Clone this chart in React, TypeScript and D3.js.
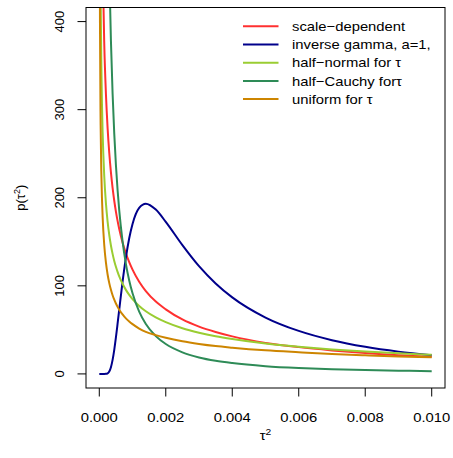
import React from "react";
import * as d3 from "d3";

// tau^2 grid (x values)
const tau2 = [0, 0.00001, 0.00002, 0.00004, 0.00006, 0.00008, 0.0001, 0.00015, 0.0002, 0.00025, 0.0003, 0.00035, 0.0004, 0.00045, 0.0005, 0.00055, 0.0006, 0.0007, 0.0008, 0.0009, 0.001, 0.0012, 0.0014, 0.0017, 0.002, 0.0025, 0.003, 0.0035, 0.004, 0.005, 0.006, 0.007, 0.008, 0.009, 0.01];

const scaleDependent = [null, 1591, 1110, 769.8, 619.3, 529.8, 468.6, 373.8, 317.5, 279.0, 250.8, 228.8, 211.2, 196.6, 184.3, 173.7, 164.5, 149.2, 137.0, 126.9, 118.4, 104.6, 94.0, 82.1, 73.3, 61.8, 53.7, 47.6, 42.6, 35.2, 30.4, 26.7, 23.6, 21.2, 19.6];
const inverseGamma = [0, 0, 0, 0, 0, 0, 0, 0, 0.06, 0.61, 2.75, 7.67, 15.96, 27.4, 41.4, 57.0, 73.1, 104.7, 132.1, 154.0, 170.3, 188.6, 193.3, 186.6, 172.6, 146.2, 122.3, 102.7, 86.9, 64.0, 48.8, 38.3, 30.8, 25.3, 21.2];
const halfNormal = [null, 870, 615.2, 434.6, 354.7, 307.0, 274.4, 223.8, 193.6, 173.0, 157.7, 145.8, 136.3, 128.3, 121.6, 115.8, 110.7, 102.3, 95.4, 89.8, 85.0, 77.2, 71.1, 64.1, 58.7, 51.8, 46.8, 42.8, 39.6, 34.5, 30.8, 27.8, 25.4, 23.4, 21.7];
const halfCauchy = [null, 9151, 5931, 3595, 2568, 1977, 1591.5, 1039.6, 750.2, 575.2, 459.4, 378.1, 318.3, 272.8, 237.2, 208.8, 185.6, 150.4, 125.0, 106.1, 91.5, 70.7, 56.7, 42.9, 33.9, 24.5, 18.7, 14.9, 12.3, 8.83, 6.74, 5.36, 4.39, 3.69, 3.15];
const uniformTau = [null, 564.7, 399.3, 282.3, 230.5, 199.7, 178.6, 145.8, 126.3, 112.9, 103.1, 95.5, 89.3, 84.2, 79.9, 76.1, 72.9, 67.5, 63.1, 59.5, 56.5, 51.5, 47.7, 44.0, 41.0, 37.0, 34.0, 31.6, 29.8, 26.8, 24.6, 22.6, 21.1, 19.8, 18.8];

const seriesNames = ["scale\u2212dependent", "inverse gamma, a=1,", "half\u2212normal for \u03c4", "half\u2212Cauchy for\u03c4", "uniform for \u03c4"];
const seriesColors = ["#FF3030", "#00008B", "#9ACD32", "#2E8B57", "#CD8500"];
const seriesValues = [scaleDependent, inverseGamma, halfNormal, halfCauchy, uniformTau];

const xTicks = [0, 0.002, 0.004, 0.006, 0.008, 0.01];
const yTicks = [0, 100, 200, 300, 400];

const W = 453;
const H = 458;
const box = { left: 86, right: 445, top: 7.5, bottom: 388 };
const FONT = "'Liberation Sans', Arial, Helvetica, sans-serif";
const FS = 13;
const SX = 1.14;

export default function App() {
  const x = d3.scaleLinear().domain([-0.0004, 0.0104]).range([box.left, box.right]);
  const y = d3.scaleLinear().domain([-16, 416]).range([box.bottom, box.top]);

  const line = d3
    .line<[number, number | null]>()
    .defined((d) => d[1] != null)
    .x((d) => x(d[0]))
    .y((d) => y(d[1] as number))
    .curve(d3.curveMonotoneX);

  const legendX1 = 243;
  const legendX2 = 278.5;
  const legendTextX = 292;
  const legendY0 = 26.3;
  const legendDy = 18.2;

  return (
    <svg
      width={W}
      height={H}
      style={{ position: "absolute", left: 0, top: 0, background: "#fff" }}
      fontFamily={FONT}
    >
      <defs>
        <clipPath id="plotclip">
          <rect x={box.left} y={box.top} width={box.right - box.left} height={box.bottom - box.top} />
        </clipPath>
      </defs>
      <rect x={0} y={0} width={W} height={H} fill="#fff" />

      <g clipPath="url(#plotclip)">
        {seriesValues.map((vals, i) => (
          <path
            key={i}
            d={line(tau2.map((t, j) => [t, vals[j]] as [number, number | null])) || ""}
            fill="none"
            stroke={seriesColors[i]}
            strokeWidth={2}
          />
        ))}
      </g>

      <rect
        x={box.left}
        y={box.top}
        width={box.right - box.left}
        height={box.bottom - box.top}
        fill="none"
        stroke="#000"
        strokeWidth={1}
      />

      {/* x axis */}
      {xTicks.map((t) => (
        <g key={"x" + t}>
          <line x1={x(t)} x2={x(t)} y1={box.bottom} y2={box.bottom + 8.5} stroke="#000" strokeWidth={1} />
          <text
            transform={`translate(${x(t)},${421.5}) scale(${SX},1)`}
            textAnchor="middle"
            fontSize={FS}
          >
            {d3.format(".3f")(t)}
          </text>
        </g>
      ))}
      <text transform={`translate(${(box.left + box.right) / 2},440) scale(${SX},1)`} textAnchor="middle" fontSize={FS}>
        {"\u03c4"}
        <tspan fontSize={9} dy={-5.5}>2</tspan>
      </text>

      {/* y axis */}
      {yTicks.map((t) => (
        <g key={"y" + t}>
          <line x1={box.left - 8.5} x2={box.left} y1={y(t)} y2={y(t)} stroke="#000" strokeWidth={1} />
          <text transform={`translate(63.5,${y(t)}) rotate(-90)`} textAnchor="middle" fontSize={FS}>
            {String(t)}
          </text>
        </g>
      ))}
      <text transform={`translate(25,${(box.top + box.bottom) / 2}) rotate(-90)`} textAnchor="middle" fontSize={FS}>
        {"p(\u03c4"}
        <tspan fontSize={9} dy={-5.5}>2</tspan>
        <tspan dy={5.5}>)</tspan>
      </text>

      {/* legend */}
      {seriesNames.map((name, i) => {
        const ly = legendY0 + i * legendDy;
        return (
          <g key={"lg" + i}>
            <line x1={legendX1} x2={legendX2} y1={ly} y2={ly} stroke={seriesColors[i]} strokeWidth={2} />
            <text transform={`translate(${legendTextX},${ly + 4.6}) scale(${SX},1)`} fontSize={FS}>
              {name}
            </text>
          </g>
        );
      })}
    </svg>
  );
}
